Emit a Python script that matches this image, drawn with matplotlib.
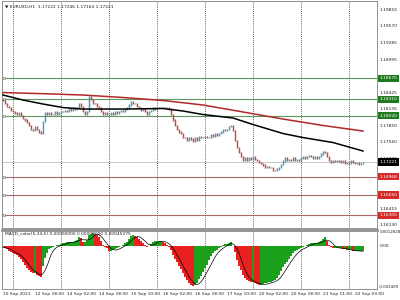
# Imports
#################
import numpy as np
import pandas as pd
import matplotlib
matplotlib.use('Agg')
import matplotlib.pyplot as plt
#################

# Chart data (EURUSD H1)
#################
first_open = 1.1831
closes = [
    1.1828, 1.1823, 1.1819, 1.1816, 1.1812, 1.1810, 1.1807, 1.1805, 1.1807, 1.1802,
    1.1798, 1.1795, 1.1790, 1.1785, 1.1779, 1.1776, 1.1783, 1.1779, 1.1774, 1.1771,
    1.1793, 1.1807, 1.1804, 1.1807, 1.1804, 1.1805, 1.1809, 1.1805, 1.1807, 1.1810,
    1.1809, 1.1812, 1.1810, 1.1814, 1.1812, 1.1816, 1.1814, 1.1817, 1.1824, 1.1819,
    1.1810, 1.1805, 1.1809, 1.1836, 1.1830, 1.1824, 1.1823, 1.1819, 1.1816, 1.1809,
    1.1805, 1.1807, 1.1804, 1.1805, 1.1807, 1.1805, 1.1809, 1.1807, 1.1809, 1.1812,
    1.1810, 1.1814, 1.1816, 1.1821, 1.1826, 1.1823, 1.1824, 1.1819, 1.1816, 1.1812,
    1.1814, 1.1809, 1.1805, 1.1810, 1.1812, 1.1816, 1.1814, 1.1816, 1.1817, 1.1816,
    1.1817, 1.1816, 1.1817, 1.1814, 1.1805, 1.1795, 1.1786, 1.1779, 1.1774, 1.1771,
    1.1765, 1.1764, 1.1760, 1.1765, 1.1762, 1.1758, 1.1764, 1.1760, 1.1767, 1.1765,
    1.1764, 1.1767, 1.1764, 1.1765, 1.1769, 1.1767, 1.1771, 1.1769, 1.1772, 1.1774,
    1.1778, 1.1776, 1.1779, 1.1783, 1.1786, 1.1776, 1.1760, 1.1748, 1.1738, 1.1731,
    1.1725, 1.1729, 1.1725, 1.1729, 1.1727, 1.1731, 1.1727, 1.1725, 1.1722, 1.1720,
    1.1717, 1.1713, 1.1715, 1.1712, 1.1713, 1.1708, 1.1707, 1.1710, 1.1713, 1.1718,
    1.1724, 1.1729, 1.1725, 1.1727, 1.1725, 1.1729, 1.1725, 1.1727, 1.1725, 1.1729,
    1.1731, 1.1729, 1.1731, 1.1734, 1.1731, 1.1729, 1.1731, 1.1729, 1.1732, 1.1736,
    1.1741, 1.1738, 1.1732, 1.1725, 1.1722, 1.1725, 1.1724, 1.1725, 1.1724, 1.1722,
    1.1724, 1.1720, 1.1722, 1.1720, 1.1725, 1.1722, 1.1720, 1.1722, 1.1718, 1.1720, 1.1722,
]

ma_red_bars = [0, 20, 40, 60, 80, 100, 120, 140, 160, 180]
ma_red = [1.18425, 1.18405, 1.18382, 1.18339, 1.18287, 1.18209, 1.18088, 1.17966, 1.17854, 1.17758]

ma_black_bars = [0, 10, 20, 30, 40, 60, 80, 90, 100, 115, 125, 140, 150, 165, 180]
ma_black = [1.18382, 1.18295, 1.18226, 1.18165, 1.18139, 1.18139, 1.18148, 1.18105, 1.18044,
            1.17984, 1.17871, 1.17715, 1.17645, 1.17559, 1.17412]

green_levels = [1.18670, 1.18310, 1.18020]
red_levels = [1.16968, 1.16650, 1.16300]
last_price = 1.17221

price_ticks = ['1.19855', '1.19570', '1.19285', '1.18995', '1.18425', '1.18135', '1.17850',
               '1.17560', '1.17270', '1.16990', '1.16415', '1.16130']

macd_hist = [
    -0.00008, -0.00016, -0.00024, -0.00040, -0.00048, -0.00056, -0.00064, -0.00072, -0.00087, -0.00103,
    -0.00127, -0.00151, -0.00175, -0.00191, -0.00207, -0.00215, -0.00215, -0.00231, -0.00239, -0.00246,
    -0.00159, -0.00095, -0.00056, -0.00024, -0.00016, -0.00008, 0.00000, 0.00008, 0.00008, 0.00016,
    0.00024, 0.00024, 0.00032, 0.00032, 0.00032, 0.00032, 0.00040, 0.00048, 0.00072, 0.00064,
    0.00032, 0.00032, 0.00048, 0.00087, 0.00095, 0.00103, 0.00095, 0.00087, 0.00072, 0.00040,
    0.00008, -0.00008, -0.00016, -0.00040, -0.00040, -0.00032, -0.00024, -0.00016, -0.00008, 0.00000,
    0.00008, 0.00024, 0.00032, 0.00056, 0.00080, 0.00087, 0.00080, 0.00072, 0.00056, 0.00040,
    0.00024, 0.00008, -0.00008, 0.00000, 0.00016, 0.00032, 0.00040, 0.00040, 0.00040, 0.00040,
    0.00032, 0.00024, 0.00008, -0.00008, -0.00032, -0.00072, -0.00103, -0.00127, -0.00159, -0.00183,
    -0.00215, -0.00246, -0.00270, -0.00294, -0.00310, -0.00318, -0.00310, -0.00294, -0.00262, -0.00239,
    -0.00207, -0.00175, -0.00151, -0.00111, -0.00080, -0.00056, -0.00040, -0.00032, -0.00016, -0.00008,
    0.00008, 0.00016, 0.00016, 0.00024, 0.00032, 0.00000, -0.00048, -0.00111, -0.00159, -0.00191,
    -0.00231, -0.00254, -0.00270, -0.00278, -0.00286, -0.00286, -0.00294, -0.00302, -0.00310, -0.00310,
    -0.00302, -0.00294, -0.00294, -0.00286, -0.00286, -0.00278, -0.00270, -0.00254, -0.00231, -0.00199,
    -0.00167, -0.00143, -0.00127, -0.00103, -0.00080, -0.00056, -0.00040, -0.00032, -0.00024, -0.00016,
    -0.00008, 0.00000, 0.00008, 0.00016, 0.00024, 0.00024, 0.00024, 0.00024, 0.00032, 0.00040,
    0.00056, 0.00072, 0.00040, 0.00008, -0.00008, -0.00016, -0.00016, -0.00016, -0.00016, -0.00016,
    -0.00024, -0.00024, -0.00032, -0.00032, -0.00032, -0.00040, -0.00040, -0.00040, -0.00040, -0.00040, -0.00040,
]
macd_top = 0.0012828
macd_bottom = -0.003409
macd_title = 'MACD_color(5,34,5) 0.00000000 0.00000000 0.00045275'
chart_title = 'EURUSD,H1  1.17222 1.17246 1.17164 1.17221'

x_labels = ['10 Sep 2021', '12 Sep 18:00', '14 Sep 02:00', '14 Sep 18:00', '15 Sep 10:00',
            '16 Sep 02:00', '16 Sep 18:00', '17 Sep 10:00', '20 Sep 02:00', '20 Sep 18:00',
            '21 Sep 11:00', '22 Sep 03:00']
#################

fs = 3.2
idx = np.arange(len(closes))
opens = [first_open] + closes[:-1]

fig = plt.figure(figsize=(4, 3), dpi=100)
ax = fig.add_axes([2/400, 1 - 228/300, 375/400, 227/300])
ax2 = fig.add_axes([2/400, 1 - 289/300, 375/400, 59/300])

# Main price pane
#################
xlim = (-0.5, 187)
ax.set_xlim(*xlim)
ax.set_ylim(1.16078, 1.20011)

for g in range(5, 187, 24):
    ax.axvline(g, color='#303030', lw=0.6, ls=(0, (1, 1.5)), zorder=1)
    ax2.axvline(g, color='#303030', lw=0.6, ls=(0, (1, 1.5)), zorder=1)

for lv in green_levels:
    ax.axhline(lv, color='#5c9a5c', lw=0.8, zorder=2)
for lv in red_levels:
    ax.axhline(lv, color='#a86a6a', lw=0.8, zorder=2)
ax.axhline(last_price, color='#c8c8c8', lw=0.7, zorder=2)
ax.plot([xlim[0] + 0.8] * 6, green_levels + red_levels, 's', ms=1.6, mfc='white',
        mec='#707070', mew=0.4, zorder=3, clip_on=False)

o = np.array(opens)
c = np.array(closes)
up = c >= o
lo = np.minimum(o, c) - 0.0001
hi = np.maximum(o, c) + 0.0001
ax.vlines(idx, lo, hi, colors=np.where(up, '#3a9fc8', '#c8463c'), lw=1.05, zorder=4)

ax.plot(ma_red_bars, ma_red, color='#b02828', lw=1.1, zorder=5)
ax.plot(ma_black_bars, ma_black, color='black', lw=1.1, zorder=5)

ytr = ax.get_yaxis_transform()
for t in price_ticks:
    ax.text(1.008, float(t), t, transform=ytr, fontsize=fs, va='center', ha='left',
            color='#202020', clip_on=False)


def price_box(y, text, fc):
    ax.text(1.006, y, text, transform=ytr, fontsize=fs, va='center', ha='left',
            color='white', clip_on=False, zorder=10,
            bbox=dict(boxstyle='square,pad=0.35', fc=fc, ec=fc, lw=0))


for lv in green_levels:
    price_box(lv, '%.5f' % lv, '#1f7a1f')
for lv in red_levels:
    price_box(lv, '%.5f' % lv, '#d42a2a')
price_box(last_price, '%.5f' % last_price, 'black')

ax.text(0.008, 0.985, '\u25bc ' + chart_title, transform=ax.transAxes, fontsize=fs,
        va='top', ha='left', color='#202020')
ax.set_xticks([])
ax.set_yticks([])
for s in ax.spines.values():
    s.set_color('#808080')
    s.set_linewidth(0.6)
#################

# MACD pane
#################
ax2.set_xlim(*xlim)
ax2.set_ylim(macd_bottom, macd_top)
h = pd.Series(macd_hist)
cols = np.where(h.diff().fillna(0) >= 0, '#1aa01a', '#e82020')
ax2.bar(idx, macd_hist, width=0.6, color=cols, lw=0, zorder=3)
signal = h.rolling(5, min_periods=1).mean()
ax2.plot(idx, signal, color='black', lw=0.5, zorder=4)

ytr2 = ax2.get_yaxis_transform()
ax2.text(1.006, macd_top, '%.7f' % macd_top, transform=ytr2, fontsize=2.8, va='top',
         ha='left', color='#202020', clip_on=False)
ax2.text(1.008, 0.0, '0.00', transform=ytr2, fontsize=fs, va='center', ha='left',
         color='#202020', clip_on=False)
ax2.text(1.006, macd_bottom, '%.6f' % macd_bottom, transform=ytr2, fontsize=2.8,
         va='bottom', ha='left', color='#202020', clip_on=False)
ax2.text(0.008, 0.97, macd_title, transform=ax2.transAxes, fontsize=fs, va='top',
         ha='left', color='#202020', zorder=6)

ax2.set_yticks([])
ax2.set_xticks(np.arange(len(x_labels)) * 16)
ax2.set_xticklabels(x_labels, fontsize=fs, ha='left', color='#202020')
ax2.tick_params(axis='x', length=0, pad=2)
for s in ax2.spines.values():
    s.set_color('#808080')
    s.set_linewidth(0.6)
ax2.spines['top'].set_color('#909090')
ax2.spines['top'].set_linewidth(2.0)
#################

plt.savefig('out.png', dpi=100, facecolor='white')
plt.close()
